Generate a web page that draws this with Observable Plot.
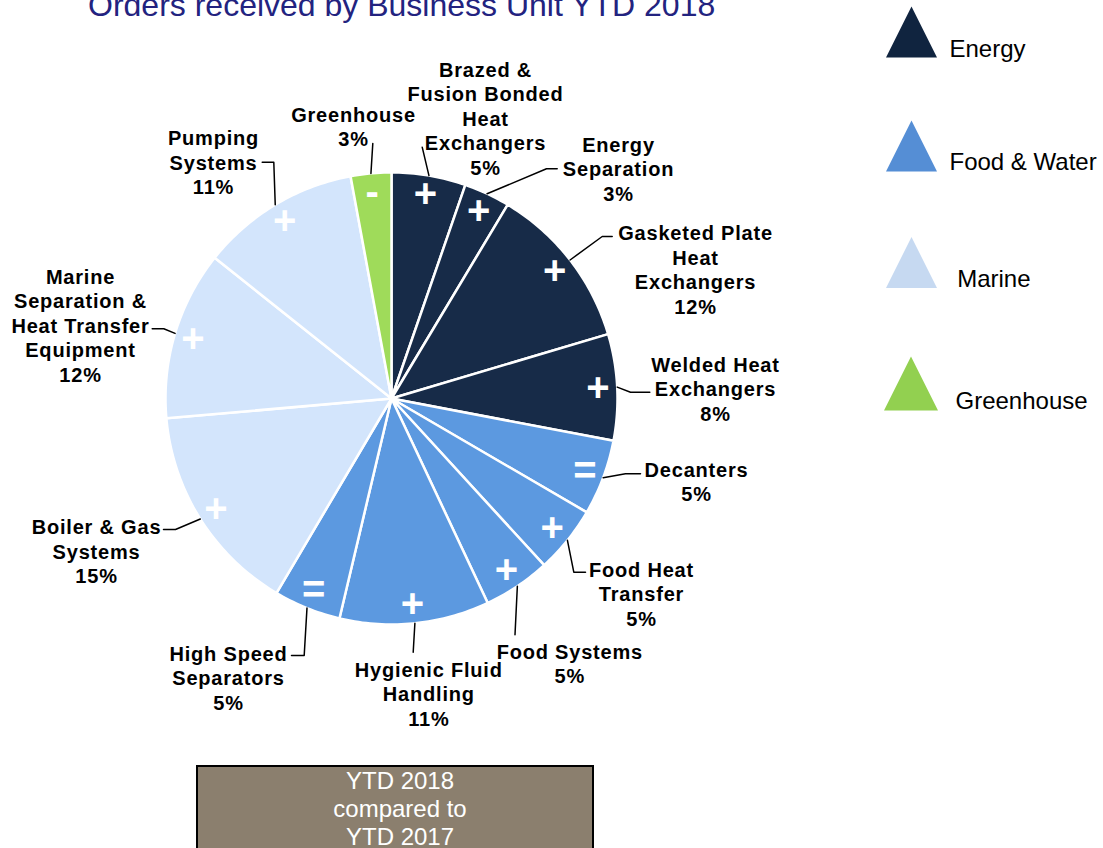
<!DOCTYPE html>
<html>
<head>
<meta charset="utf-8">
<script src="https://cdn.jsdelivr.net/npm/d3@7"></script>
<script src="https://cdn.jsdelivr.net/npm/@observablehq/plot@0.6"></script>
<style>
html, body { margin: 0; padding: 0; background: #fff; overflow: hidden; }
#wrap { position: relative; width: 1103px; height: 848px; overflow: hidden; font-family: "Liberation Sans", Arial, sans-serif; }
#chart { position: absolute; left: 0; top: 0; }
#title { position: absolute; left: 88px; top: -10.6px; font-size: 32px; line-height: 32px; color: #23237f; white-space: nowrap; }
#box { position: absolute; left: 196px; top: 765px; width: 384px; padding-left: 10px; height: 100px; background: #8b7f6e; border: 2px solid #000; color: #fff; font-size: 24px; line-height: 28px; text-align: center; }
g[aria-label="text"][font-weight="bold"] { letter-spacing: 0.8px; }
</style>
</head>
<body>
<div id="wrap">
  <div id="chart"></div>
  <div id="title">Orders received by Business Unit YTD 2018</div>
  <div id="box">YTD 2018<br>compared to<br>YTD 2017</div>
</div>
<script>
// ---------- data ----------
const units = [
  "Brazed &\nFusion Bonded\nHeat\nExchangers",
  "Energy\nSeparation",
  "Gasketed Plate\nHeat\nExchangers",
  "Welded Heat\nExchangers",
  "Decanters",
  "Food Heat\nTransfer",
  "Food Systems",
  "Hygienic Fluid\nHandling",
  "High Speed\nSeparators",
  "Boiler & Gas\nSystems",
  "Marine\nSeparation &\nHeat Transfer\nEquipment",
  "Pumping\nSystems",
  "Greenhouse"
];
const shares = [5.3, 3.3, 11.8, 7.6, 5.4, 4.8, 4.8, 10.7, 4.8, 15.1, 12.1, 11.4, 2.9];
const groups = [
  "Energy", "Energy", "Energy", "Energy",
  "Food & Water", "Food & Water", "Food & Water", "Food & Water", "Food & Water",
  "Marine", "Marine", "Marine",
  "Greenhouse"
];
const changes = ["+", "+", "+", "+", "=", "+", "+", "+", "=", "+", "+", "+", "-"];
const legendGroups = ["Energy", "Food & Water", "Marine", "Greenhouse"];

// ---------- styles & layout ----------
const sliceColor = {"Energy": "#172b48", "Food & Water": "#5c99e0", "Marine": "#d3e5fc", "Greenhouse": "#9fdb5a"};
const legendColor = {"Energy": "#10243f", "Food & Water": "#558ed5", "Marine": "#c6d9f1", "Greenhouse": "#92d050"};
const cx = 391, cy = 398, R = 226, symR = 207;
// label anchor (center x, first-line baseline) and leader waypoints (after the pie-edge start)
const labelLayout = [
  {x: 485, base: 73.3, leader: [[421.7, 146.7]]},
  {x: 618, base: 148.3, leader: [[546, 168.3], [556.7, 168.3]]},
  {x: 695, base: 236.7, leader: [[601.7, 236], [611.7, 236]]},
  {x: 715, base: 368.3, leader: [[630, 391.7], [649.3, 391.7]]},
  {x: 696, base: 473.3, leader: [[625, 473.3], [640, 473.3]]},
  {x: 641, base: 573.3, leader: [[573.3, 571.7], [585, 571.7]]},
  {x: 569.3, base: 655, leader: [[514.5, 634.3]]},
  {x: 428.3, base: 673.3, leader: [[412.7, 651.7]]},
  {x: 228, base: 657.3, leader: [[303.7, 655], [291, 655]]},
  {x: 96, base: 530.7, leader: [[175, 529], [163, 529]]},
  {x: 80, base: 280, leader: [[163.3, 328.3], [151.7, 328.3]]},
  {x: 213, base: 141.7, leader: [[273.3, 161.7], [261.7, 161.7]]},
  {x: 353, base: 118.3, leader: [[372.3, 143]]}
];
const legendLayout = [
  {tx: 911, ty: 31.5, r: 25.5, lx: 949, lbase: 56.7},
  {tx: 911, ty: 145.5, r: 25.5, lx: 949, lbase: 169.3},
  {tx: 911, ty: 262, r: 25.5, lx: 956.7, lbase: 286.7},
  {tx: 910.5, ty: 383, r: 27, lx: 955, lbase: 408.3}
];
const labelSize = 20, labelLH = 24.5;

// ---------- derived geometry ----------
const total = d3.sum(shares);
let acc = 0;
const sliceRows = units.map((u, i) => {
  const a0 = acc / total * 2 * Math.PI;
  acc += shares[i];
  const a1 = acc / total * 2 * Math.PI;
  return {i, unit: u, group: groups[i], change: changes[i], value: shares[i], a0, a1, mid: (a0 + a1) / 2};
});
const pt = (a, r) => [cx + r * Math.sin(a), cy - r * Math.cos(a)];

const polyPts = sliceRows.flatMap(s => {
  const n = Math.max(2, Math.ceil((s.a1 - s.a0) / (Math.PI / 180)));
  const fill = sliceColor[s.group];
  const pts = [{unit: s.unit, fill, p: [cx, cy]}];
  for (let k = 0; k <= n; k++) pts.push({unit: s.unit, fill, p: pt(s.a0 + (s.a1 - s.a0) * k / n, R)});
  return pts;
});

const leaderPts = sliceRows.flatMap(s => {
  const L = labelLayout[s.i];
  return [pt(s.mid, R), ...L.leader].map(p => ({unit: s.unit, p}));
});

const labelRows = sliceRows.map(s => ({
  text: s.unit + "\n" + Math.round(s.value) + "%",
  x: labelLayout[s.i].x,
  y: labelLayout[s.i].base - 0.71 * labelSize
}));

const triangle = {
  draw(ctx, size) {
    const r = Math.sqrt(size / Math.PI);
    ctx.moveTo(0, -r);
    ctx.lineTo(r, r);
    ctx.lineTo(-r, r);
    ctx.closePath();
  }
};

const chart = Plot.plot({
  width: 1103,
  height: 848,
  margin: 0,
  x: {domain: [0, 1103], range: [0, 1103], axis: null},
  y: {domain: [0, 848], range: [0, 848], axis: null},
  r: {type: "identity"},
  color: {type: "identity"},
  style: {fontFamily: "'Liberation Sans', Arial, sans-serif", background: "transparent", overflow: "visible"},
  marks: [
    Plot.line(polyPts, {x: d => d.p[0], y: d => d.p[1], z: "unit", fill: "fill", stroke: "white", strokeWidth: 2.5, curve: "linear-closed"}),
    Plot.text(sliceRows, {
      x: d => pt(d.mid, symR)[0], y: d => pt(d.mid, symR)[1], text: "change",
      fill: "white", fontSize: 40, fontWeight: "bold", lineAnchor: "middle", textAnchor: "middle"
    }),
    Plot.line(leaderPts, {x: d => d.p[0], y: d => d.p[1], z: "unit", stroke: "black", strokeWidth: 1.5}),
    Plot.text(labelRows, {
      x: "x", y: "y", text: "text", fontSize: labelSize, fontWeight: "bold", fill: "black",
      lineAnchor: "top", textAnchor: "middle", lineHeight: labelLH / labelSize
    }),
    Plot.dot(legendGroups, {
      x: (d, i) => legendLayout[i].tx, y: (d, i) => legendLayout[i].ty,
      r: (d, i) => legendLayout[i].r, symbol: triangle, fill: d => legendColor[d], stroke: null
    }),
    Plot.text(legendGroups, {
      x: (d, i) => legendLayout[i].lx, y: (d, i) => legendLayout[i].lbase - 0.71 * 24,
      text: d => d, fontSize: 24, fill: "black", textAnchor: "start", lineAnchor: "top"
    })
  ]
});
document.getElementById("chart").appendChild(chart);
</script>
</body>
</html>
